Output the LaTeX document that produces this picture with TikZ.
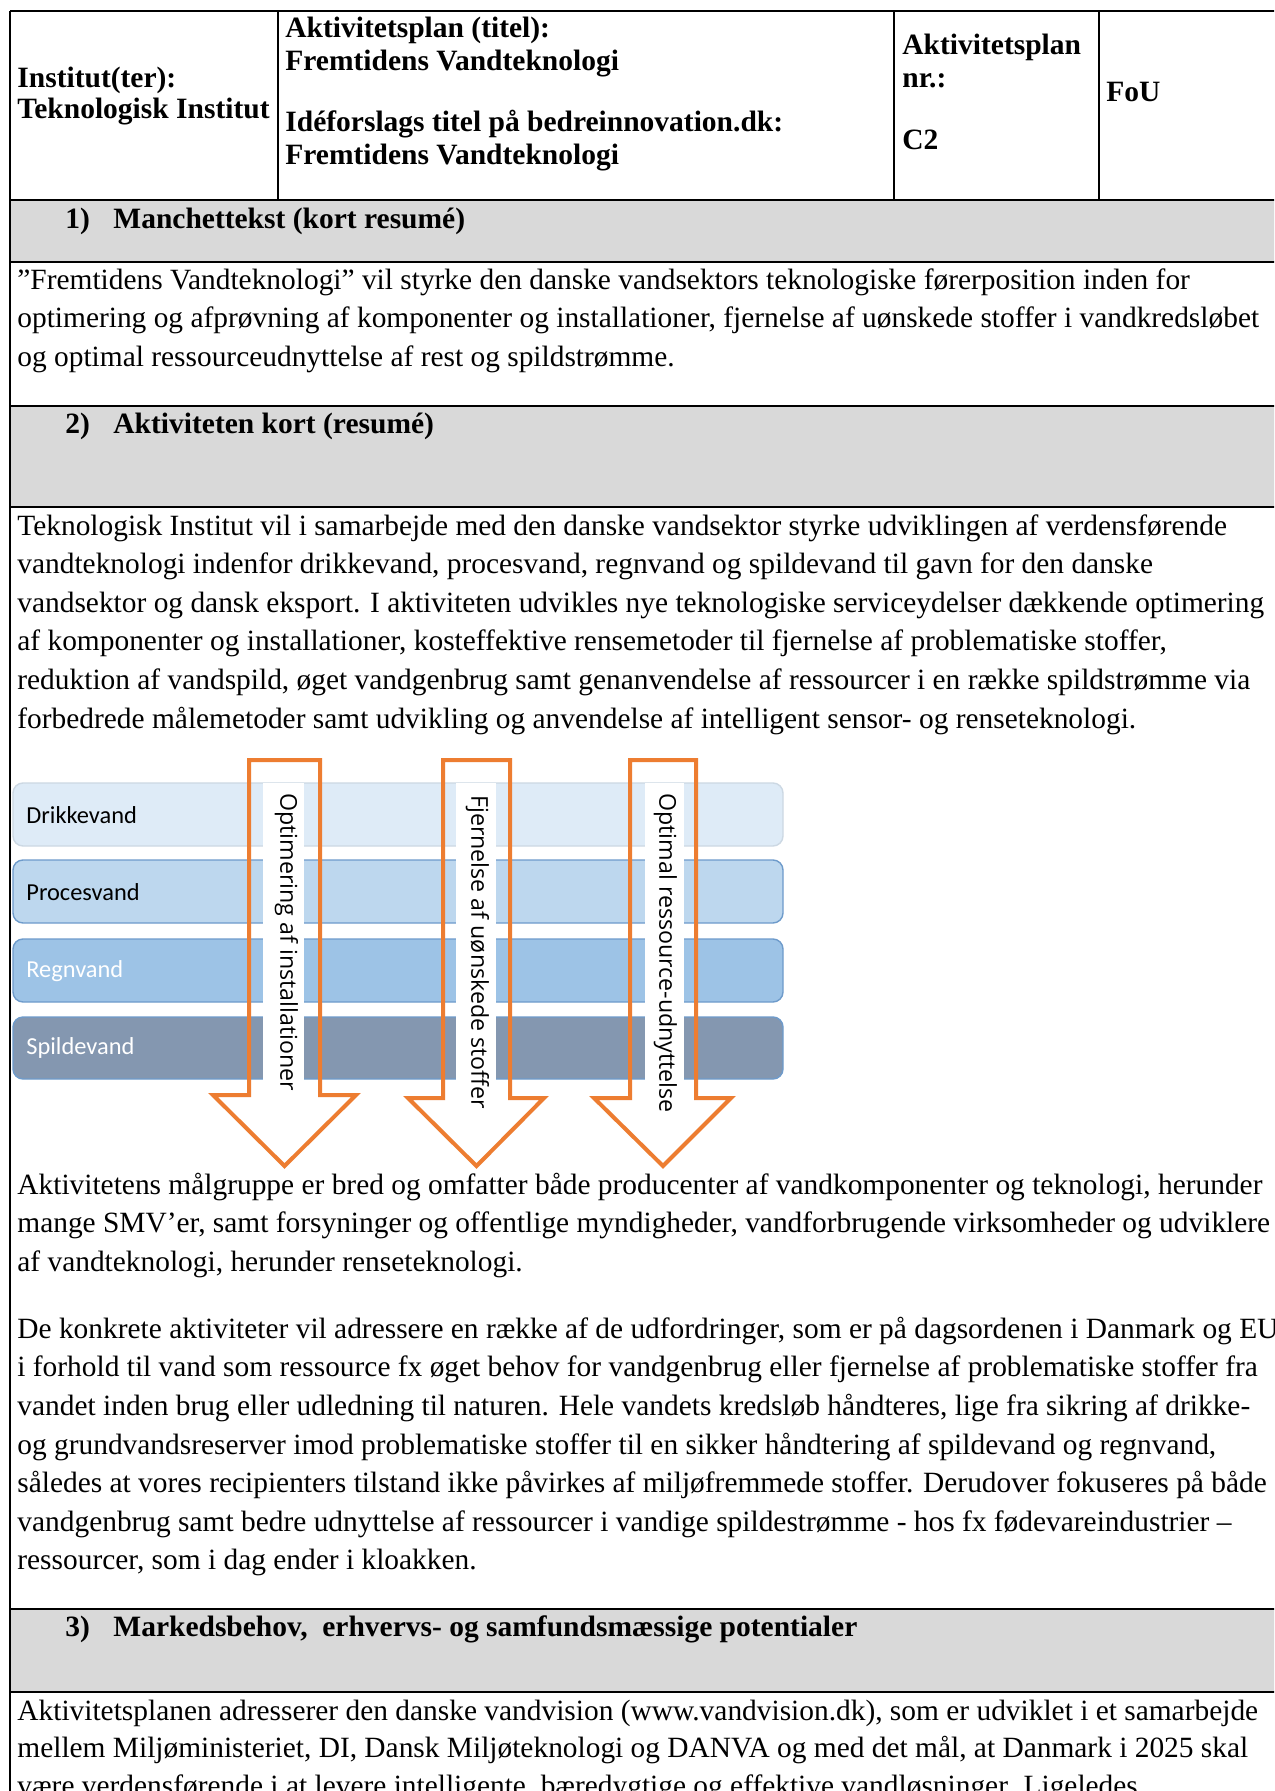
\documentclass[tikz,border=0pt]{standalone}
\usepackage{fontspec}
\setmainfont{Liberation Serif}
\newfontfamily\arrowfont{Open Sans}
\newfontfamily\bandfont{Carlito}
\definecolor{bandgray}{HTML}{D9D9D9}
\definecolor{orangeA}{HTML}{ED7D31}
\definecolor{bandA}{HTML}{DEEBF7}
\definecolor{bandB}{HTML}{BDD7EE}
\definecolor{bandC}{HTML}{9DC3E6}
\definecolor{bandD}{HTML}{8497B0}
\definecolor{bandedge}{HTML}{6E9BCB}
\begin{document}
\begin{tikzpicture}[x=0.5pt,y=-0.5pt,
  body/.style={anchor=base west, align=left, inner sep=0pt, font=\fontsize{14.7}{19.3}\selectfont},
  hdr/.style={anchor=base west, inner sep=0pt, font=\fontsize{14.75}{16.5}\selectfont\bfseries},
  tline/.style={line width=1pt},
  waterband/.style={rounded corners=5pt, line width=0.7pt},
  bandlabel/.style={anchor=west, inner sep=0pt, font=\bandfont\fontsize{12.2}{14}\selectfont},
  arrowout/.style={draw=orangeA, line width=2pt, line join=miter},
  arrowlabel/.style={rotate=-90, anchor=mid west, inner sep=0pt, font=\arrowfont\fontsize{11.6}{14}\selectfont},
  textbg/.style={fill=white, draw=none}]
\clip (0,0) rectangle (1274,1791);
\fill[white] (0,0) rectangle (1274,1791);
% gray bands
\fill[bandgray] (10,200) rectangle (1290,262);
\fill[bandgray] (10,406) rectangle (1290,507);
\fill[bandgray] (10,1609) rectangle (1290,1692);
% table lines
\draw[tline] (10,11) -- (1290,11);
\draw[tline] (10,200) -- (1290,200);
\draw[tline] (10,262) -- (1290,262);
\draw[tline] (10,406) -- (1290,406);
\draw[tline] (10,507) -- (1290,507);
\draw[tline] (10,1609) -- (1290,1609);
\draw[tline] (10,1692) -- (1290,1692);
\draw[tline] (10,11) -- (10,1800);
\draw[tline] (278,11) -- (278,200);
\draw[tline] (893.5,11) -- (893.5,200);
\draw[tline] (1099,11) -- (1099,200);
% header texts
\node[hdr] (h1) at (17,88) {Institut(ter):};
\node[hdr] (h2) at (17,119) {Teknologisk Institut};
\node[hdr] (h3) at (285,38) {Aktivitetsplan (titel):};
\node[hdr] (h4) at (285,71) {Fremtidens Vandteknologi};
\node[hdr] (h5) at (285,132) {Idéforslags titel på bedreinnovation.dk:};
\node[hdr] (h6) at (285,165) {Fremtidens Vandteknologi};
\node[hdr] (h7) at (902,55) {Aktivitetsplan};
\node[hdr] (h8) at (902,88) {nr.:};
\node[hdr] (h9) at (902,150) {C2};
\node[hdr] (h10) at (1106,101.7) {FoU};
% section headings
\node[hdr] (s1n) at (65,229) {1)};
\node[hdr] (s1) at (113,229) {Manchettekst (kort resumé)};
\node[hdr] (s2n) at (65,434) {2)};
\node[hdr] (s2) at (113,434) {Aktiviteten kort (resumé)};
\node[hdr] (s3n) at (65,1636) {3)};
\node[hdr] (s3) at (113,1636) {Markedsbehov,\ \ erhvervs- og samfundsmæssige potentialer};
% body texts (anchored at the baseline of the last line)
\node[body] (p1) at (17,366.6) {”Fremtidens Vandteknologi” vil styrke den danske vandsektors teknologiske førerposition inden for\\
optimering og afprøvning af komponenter og installationer, fjernelse af uønskede stoffer i vandkredsløbet\\
og optimal ressourceudnyttelse af rest og spildstrømme.};
\node[body] (p2) at (17,728) {Teknologisk Institut vil i samarbejde med den danske vandsektor styrke udviklingen af verdensførende\\
vandteknologi indenfor drikkevand, procesvand, regnvand og spildevand til gavn for den danske\\
vandsektor og dansk eksport. I aktiviteten udvikles nye teknologiske serviceydelser dækkende optimering\\
af komponenter og installationer, kosteffektive rensemetoder til fjernelse af problematiske stoffer,\\
reduktion af vandspild, øget vandgenbrug samt genanvendelse af ressourcer i en række spildstrømme via\\
forbedrede målemetoder samt udvikling og anvendelse af intelligent sensor- og renseteknologi.};
\node[body] (p3) at (17,1271.5) {Aktivitetens målgruppe er bred og omfatter både producenter af vandkomponenter og teknologi, herunder\\
mange SMV’er, samt forsyninger og offentlige myndigheder, vandforbrugende virksomheder og udviklere\\
af vandteknologi, herunder renseteknologi.};
\node[body] (p4) at (17,1569.9) {De konkrete aktiviteter vil adressere en række af de udfordringer, som er på dagsordenen i Danmark og EU\\
i forhold til vand som ressource fx øget behov for vandgenbrug eller fjernelse af problematiske stoffer fra\\
vandet inden brug eller udledning til naturen. Hele vandets kredsløb håndteres, lige fra sikring af drikke-\\
og grundvandsreserver imod problematiske stoffer til en sikker håndtering af spildevand og regnvand,\\
således at vores recipienters tilstand ikke påvirkes af miljøfremmede stoffer. Derudover fokuseres på både\\
vandgenbrug samt bedre udnyttelse af ressourcer i vandige spildestrømme - hos fx fødevareindustrier –\\
ressourcer, som i dag ender i kloakken.};
\node[body, font=\fontsize{14.7}{18.9}\selectfont] (p5) at (17,1795.6) {Aktivitetsplanen adresserer den danske vandvision (www.vandvision.dk), som er udviklet i et samarbejde\\
mellem Miljøministeriet, DI, Dansk Miljøteknologi og DANVA og med det mål, at Danmark i 2025 skal\\
være verdensførende i at levere intelligente, bæredygtige og effektive vandløsninger. Ligeledes};
% diagram bands
\draw[waterband, fill=bandA, draw=bandA!92!black] (13,783) rectangle (783,846);
\draw[waterband, fill=bandB, draw=bandedge] (13,860) rectangle (783,923);
\draw[waterband, fill=bandC, draw=bandedge] (13,939) rectangle (783,1002);
\draw[waterband, fill=bandD, draw=bandedge] (13,1017) rectangle (783,1079);
\node[bandlabel] (b1) at (26,815) {Drikkevand};
\node[bandlabel] (b2) at (26,892) {Procesvand};
\node[bandlabel, text=white] (b3) at (26,971) {Regnvand};
\node[bandlabel, text=white] (b4) at (26,1048) {Spildevand};
% white label boxes
\path[textbg] (263,783) rectangle (304,1117);
\path[textbg] (456,783) rectangle (496,1125);
\path[textbg] (645,783) rectangle (684,1125);
% arrows
\draw[arrowout] (249,760) -- (320,760) -- (320,1095) -- (356,1095) -- (284.5,1166) -- (213,1095) -- (249,1095) -- cycle;
\draw[arrowout] (443,760) -- (510,760) -- (510,1098) -- (544,1098) -- (476.5,1166) -- (408,1098) -- (443,1098) -- cycle;
\draw[arrowout] (630,760) -- (696,760) -- (696,1098) -- (731,1098) -- (663,1166) -- (594,1098) -- (630,1098) -- cycle;
\node[arrowlabel] (a1) at (285,793) {Optimering af installationer};
\node[arrowlabel] (a2) at (476,795) {Fjernelse af uønskede stoffer};
\node[arrowlabel] (a3) at (664,793) {Optimal ressource-udnyttelse};
\end{tikzpicture}
\end{document}
